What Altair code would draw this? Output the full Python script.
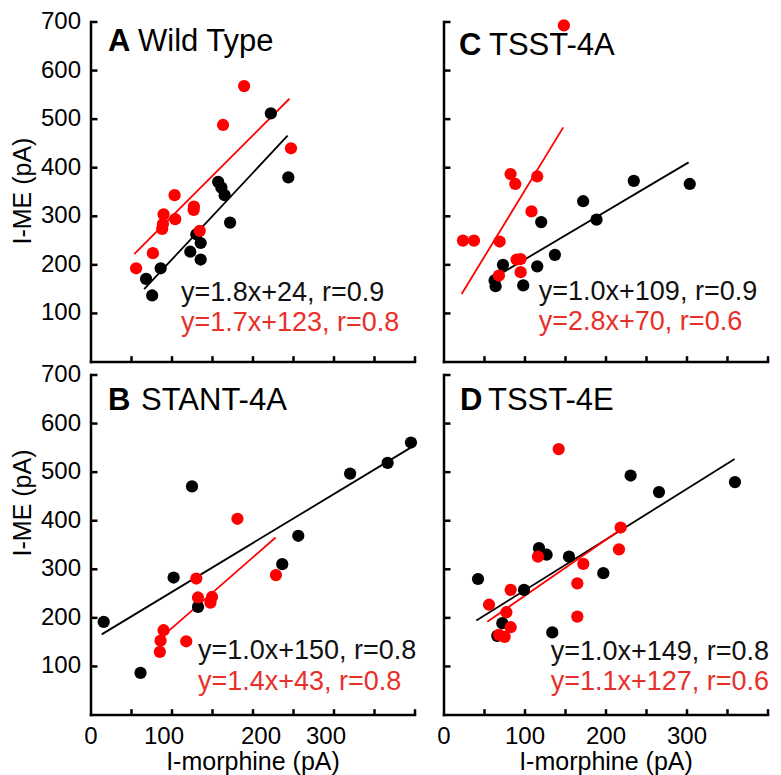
import altair as alt
import pandas as pd

FONT = "Liberation Sans"
RED = "#ff0000"
RED_TEXT = "#e8302a"

# ---------------- data ----------------
# Panel A  Wild Type
a_black_x = [68, 75.5, 86, 122.6, 130, 135.4, 135.4, 157, 161, 165, 171.7, 222, 243.6]
a_black_y = [171, 137, 193, 227, 263, 245, 211, 371, 359, 343.5, 287, 512, 380]
a_red_x = [55.7, 76.4, 87.9, 88.8, 89.6, 103.2, 104, 127.1, 126.7, 134.2, 163, 189, 246.9]
a_red_y = [193, 224, 274, 284, 304, 343.5, 294, 320, 313, 270, 488, 568, 440]
a_black_fit = [65.6, 150, 242.7, 466]
a_red_fit = [53.3, 222, 245, 542]

# Panel B  STANT-4A
b_black_x = [15.7, 61.1, 102, 124.7, 132.1, 236.1, 255.9, 319.9, 366.2, 395]
b_black_y = [191.7, 86.6, 283, 470.6, 222.6, 310.5, 369, 497, 519, 561]
b_red_x = [85, 85.9, 89.6, 117.6, 130, 132.1, 147.4, 149.4, 180.8, 228.3]
b_red_y = [130, 153, 174.5, 151.8, 281, 242, 231.5, 243, 404, 288]
b_black_fit = [13.2, 166, 394.2, 550]
b_red_fit = [89.6, 164, 227.9, 365.5]

# Panel C  TSST-4A
c_black_x = [62.5, 63.7, 72.8, 97.8, 115.1, 120, 136.9, 171.8, 188.3, 234.3, 303.4]
c_black_y = [168, 156, 200, 157.6, 197, 288, 220.6, 331, 293, 373, 366.5]
c_red_x = [23.4, 37, 68.7, 67.8, 82.2, 88, 89.6, 94.6, 94.6, 108, 115.1, 148]
c_red_y = [250, 250, 248, 178, 387, 366.5, 211, 212, 185, 310, 382, 693]
c_black_fit = [73.2, 185, 302, 411]
c_red_fit = [21.8, 140, 147.2, 483]

# Panel D  TSST-4E
d_black_x = [42, 65.8, 72, 98.8, 117.3, 126.7, 133.7, 154.3, 196.7, 230.4, 265.4, 359.2]
d_black_y = [280, 163, 189, 257.6, 343.5, 330, 170, 326, 292, 493, 459, 479.5]
d_red_x = [55.6, 67.9, 74.9, 77, 82.3, 82.3, 116, 141.6, 164.6, 164.6, 172, 216, 218.1]
d_red_y = [227, 165, 161, 211.6, 180.7, 257.6, 326, 547.5, 271, 202.7, 311, 341, 386]
d_black_fit = [39.9, 194.4, 358.8, 527]
d_red_fit = [53.5, 192, 217.3, 381]

letters = ["A", "B", "C", "D"]
names = ["Wild Type", "STANT-4A", "TSST-4A", "TSST-4E"]
black_eq = ["y=1.8x+24, r=0.9", "y=1.0x+150, r=0.8", "y=1.0x+109, r=0.9", "y=1.0x+149, r=0.8"]
red_eq = ["y=1.7x+123, r=0.8", "y=1.4x+43, r=0.8", "y=2.8x+70, r=0.6", "y=1.1x+127, r=0.6"]
x_title = "I-morphine (pA)"
y_title = "I-ME (pA)"

x_tick_values = [50, 100, 150, 200, 250, 300, 350, 400]
y_tick_values = [100, 200, 300, 400, 500, 600, 700]
x_label_values = [0, 100, 200, 300]
y_label_values = [100, 200, 300, 400, 500, 600, 700]

# ---------------- layout constants ----------------
title_pos = [(21, 640), (21, 628), (18.5, 632), (19.7, 628)]
name_dx = [30, 33, 30, 28]
eq_pos = [(111, 125.6, 63.8), (132, 115, 51.5), (117, 127, 65), (131.7, 113, 51.5)]
ytitle_center = {"A": 352, "B": 436.5}
# panel B's tick labels sit slightly off their ticks in the original (pixels)
label_shift_px = {"B": [0, -8, 8, -8]}

panels = {
    "A": (a_black_x, a_black_y, a_red_x, a_red_y, a_black_fit, a_red_fit),
    "B": (b_black_x, b_black_y, b_red_x, b_red_y, b_black_fit, b_red_fit),
    "C": (c_black_x, c_black_y, c_red_x, c_red_y, c_black_fit, c_red_fit),
    "D": (d_black_x, d_black_y, d_red_x, d_red_y, d_black_fit, d_red_fit),
}

W, H = 324, 340
XS = alt.Scale(domain=[0, 400], nice=False, zero=False)
YS = alt.Scale(domain=[0, 700], nice=False, zero=False)


def X(f):
    return alt.X(f, type="quantitative", scale=XS, axis=None)


def Y(f):
    return alt.Y(f, type="quantitative", scale=YS, axis=None)


def XD(v):
    return alt.XDatum(v, type="quantitative", scale=XS, axis=None)


def YD(v):
    return alt.YDatum(v, type="quantitative", scale=YS, axis=None)


def make_panel(i, key, show_x, show_y):
    bx, by, rx, ry, bfit, rfit = panels[key]
    black = pd.DataFrame({"x": bx, "y": by})
    red = pd.DataFrame({"x": rx, "y": ry})
    fits = pd.DataFrame({
        "x1": [bfit[0], rfit[0]], "y1": [bfit[1], rfit[1]],
        "x2": [bfit[2], rfit[2]], "y2": [bfit[3], rfit[3]],
        "s": ["black", "red"],
    })
    xt = pd.DataFrame({"v": x_tick_values})
    yt = pd.DataFrame({"v": y_tick_values})
    one = pd.DataFrame({"d": [0]})

    layers = []
    # axis lines
    layers.append(alt.Chart(one).mark_rule(strokeWidth=2.5, color="black", strokeCap="square").encode(
        x=XD(0), x2=alt.datum(400), y=YD(0)))
    layers.append(alt.Chart(one).mark_rule(strokeWidth=2.5, color="black", strokeCap="square").encode(
        y=YD(0), y2=alt.datum(700), x=XD(0)))
    # inward ticks
    layers.append(alt.Chart(xt).mark_rule(strokeWidth=2.5, color="black").encode(
        x=X("v"), y=YD(0), y2=alt.datum(12)))
    layers.append(alt.Chart(yt).mark_rule(strokeWidth=2.5, color="black").encode(
        y=Y("v"), x=XD(0), x2=alt.datum(8)))
    # regression lines
    layers.append(alt.Chart(fits).mark_rule(strokeWidth=1.8).encode(
        x=X("x1"), y=Y("y1"), x2="x2", y2="y2",
        color=alt.Color("s:N", scale=alt.Scale(domain=["black", "red"], range=["#000000", RED]), legend=None),
    ))
    # points
    layers.append(alt.Chart(black).mark_circle(size=150, opacity=1, color="#000000").encode(x=X("x"), y=Y("y")))
    layers.append(alt.Chart(red).mark_circle(size=150, opacity=1, color=RED).encode(x=X("x"), y=Y("y")))

    # panel title
    tx, ty = title_pos[i]
    tdf = pd.DataFrame({"x": [tx], "y": [ty], "l": [letters[i]], "n": [names[i]]})
    layers.append(alt.Chart(tdf).mark_text(align="left", baseline="alphabetic", fontSize=31,
                                           fontWeight="bold", font=FONT, color="black").encode(
        x=X("x"), y=Y("y"), text="l:N"))
    layers.append(alt.Chart(tdf).mark_text(align="left", baseline="alphabetic", fontSize=31,
                                           font=FONT, color="black", dx=name_dx[i]).encode(
        x=X("x"), y=Y("y"), text="n:N"))

    # equations
    ex, eyb, eyr = eq_pos[i]
    layers.append(alt.Chart(pd.DataFrame({"x": [ex], "y": [eyb], "t": [black_eq[i]]})).mark_text(
        align="left", baseline="alphabetic", fontSize=27, font=FONT, color="#111111").encode(
        x=X("x"), y=Y("y"), text="t:N"))
    layers.append(alt.Chart(pd.DataFrame({"x": [ex], "y": [eyr], "t": [red_eq[i]]})).mark_text(
        align="left", baseline="alphabetic", fontSize=27, font=FONT, color=RED_TEXT).encode(
        x=X("x"), y=Y("y"), text="t:N"))

    # tick labels and axis titles
    if show_y:
        layers.append(alt.Chart(pd.DataFrame({"v": y_label_values})).mark_text(
            align="right", baseline="middle", dx=-10, fontSize=24, font=FONT, color="black").encode(
            y=Y("v"), x=XD(0), text=alt.Text("v:Q", format="d")))
        layers.append(alt.Chart(one).mark_text(
            align="center", baseline="alphabetic", angle=270, dy=-60, fontSize=25, font=FONT,
            color="black", text=y_title).encode(x=XD(0), y=YD(ytitle_center[key])))
    if show_x:
        shifts = label_shift_px.get(key, [0] * len(x_label_values))
        ldf = pd.DataFrame({"v": x_label_values, "s": shifts})
        layers.append(alt.Chart(ldf).transform_calculate(
            xp=f"datum.v + datum.s * 400 / {W}").mark_text(
            align="center", baseline="alphabetic", dy=29, fontSize=24, font=FONT, color="black").encode(
            x=X("xp"), y=YD(0), text=alt.Text("v:Q", format="d")))
        layers.append(alt.Chart(one).mark_text(
            align="center", baseline="alphabetic", dy=55, fontSize=25, font=FONT,
            color="black", text=x_title).encode(x=XD(200), y=YD(0)))

    return alt.layer(*layers).properties(width=W, height=H)


pA = make_panel(0, "A", False, True)
pB = make_panel(1, "B", True, True)
pC = make_panel(2, "C", False, False)
pD = make_panel(3, "D", True, False)

chart = alt.concat(pA, pC, pB, pD, columns=2, bounds="flush",
                   spacing={"row": 13, "column": 29}).properties(
    padding={"left": 2, "top": 2, "right": 0, "bottom": 0}
).configure(font=FONT).configure_view(stroke=None, strokeWidth=0)

chart.save("out.html", embed_options={"renderer": "svg", "actions": False})
